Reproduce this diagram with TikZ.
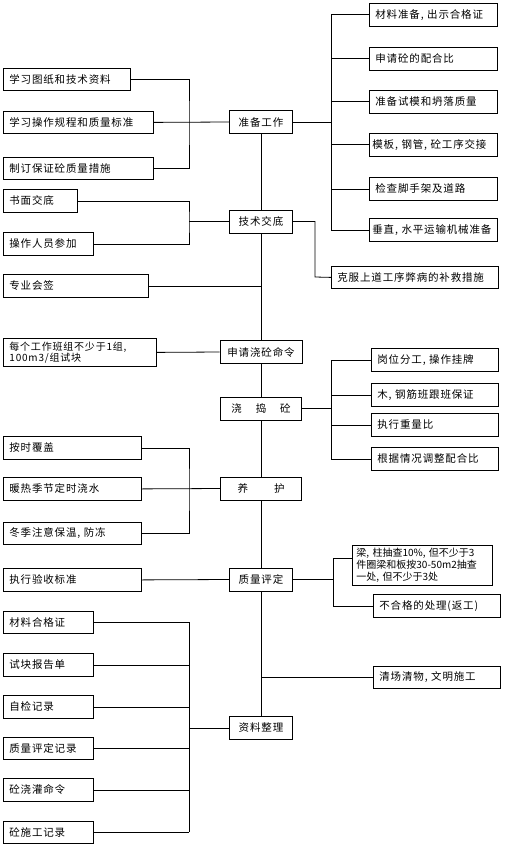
\documentclass[tikz,border=0pt]{standalone}
\usepackage{fontspec}
\setmainfont[LetterSpace=8]{Noto Sans CJK SC}
\newfontfamily\plainfont{Noto Sans CJK SC}
\usetikzlibrary{calc}

\begin{document}
\begin{tikzpicture}[x=1pt,y=-1pt,
  box/.style={draw,line width=0.8pt,inner xsep=6pt,inner ysep=0pt,font=\fontsize{10.5}{12}\selectfont},
  lbox/.style 2 args={box,anchor=north west,align=left,text width=#1,minimum height=#2},
  mbox/.style={box,minimum width=#1,minimum height=23pt},
  link/.style={line width=0.8pt}]
  \useasboundingbox (0,0) rectangle (515,853);

  % Main column
  \node[mbox=63pt] (zb) at (261,122) {准备工作};
  \node[mbox=63pt] (jd) at (261,221.5) {技术交底};
  \node[mbox=82pt] (sq) at (261,352) {申请浇砼命令};
  \node[mbox=81pt] (jdt) at (261,408.5) {浇\hspace{14pt}捣\hspace{14pt}砼};
  \node[mbox=81pt] (yh) at (261,488.5) {养\hspace{26pt}护};
  \node[mbox=63pt] (pd) at (261,579.5) {质量评定};
  \node[mbox=63pt] (zl) at (261,728) {资料整理};
  \foreach \a/\b in {zb/jd,jd/sq,sq/jdt,jdt/yh,yh/pd,pd/zl}
    \draw[link] (\a) -- (\b);

  % Left of 准备工作
  \node[lbox={115pt}{22pt}] (l1) at (3,68) {学习图纸和技术资料};
  \node[lbox={138pt}{22pt}] (l2) at (3,111) {学习操作规程和质量标准};
  \node[lbox={138pt}{22pt}] (l3) at (3,157) {制订保证砼质量措施};
  \coordinate (b1) at (189,122);
  \draw[link] (l1.east) -| (b1) |- (l3.east);
  \draw[link] (l2.east) -- (zb.west);

  % Right of 准备工作
  \node[lbox={116pt}{23pt}] (ra) at (369,3) {材料准备, 出示合格证};
  \node[lbox={116pt}{23pt}] (rb) at (369,47) {申请砼的配合比};
  \node[lbox={116pt}{23pt}] (rc) at (369,90) {准备试模和坍落质量};
  \node[lbox={122pt}{23pt},inner xsep=3pt] (rd) at (369,133) {模板, 钢管, 砼工序交接};
  \node[lbox={116pt}{23pt}] (re) at (369,177) {检查脚手架及道路};
  \node[lbox={122pt}{23pt},inner xsep=3pt] (rf) at (369,218) {垂直, 水平运输机械准备};
  \coordinate (r1) at (331,122);
  \draw[link] (zb.east) -- (r1);
  \foreach \n in {ra,rb,rc,rd,re,rf}
    \draw[link] (r1) |- (\n.west);

  % 技术交底
  \node[lbox={62pt}{23pt}] (s1) at (3,189) {书面交底};
  \node[lbox={78pt}{23pt}] (s2) at (3,232) {操作人员参加};
  \coordinate (b2) at (189,221.5);
  \draw[link] (s1.east) -| (b2) |- (s2.east);
  \draw[link] (b2) -- (jd.west);
  \node[lbox={155pt}{22pt}] (kf) at (331,266) {克服上道工序弊病的补救措施};
  \coordinate (k1) at (315,277);
  \draw[link] (jd.east) -| (k1) -- (kf.west);
  \node[lbox={133pt}{23pt}] (hq) at (3,274) {专业会签};
  \draw[link] (hq.east) -- (hq.east -| jd.south);

  % 申请浇砼命令
  \node[lbox={141pt}{28pt},font=\fontsize{10}{11}\selectfont] (mg) at (3,338)
    {每个工作班组不少于1组,\\100m3/组试块};
  \draw[link] (mg.east) -- (sq.west);

  % 浇捣砼
  \node[lbox={115pt}{23pt}] (wa) at (371,348) {岗位分工, 操作挂牌};
  \node[lbox={115pt}{23pt}] (wb) at (371,383) {木, 钢筋班跟班保证};
  \node[lbox={115pt}{23pt}] (wc) at (371,413) {执行重量比};
  \node[lbox={115pt}{23pt}] (wd) at (371,447) {根据情况调整配合比};
  \coordinate (r2) at (331,408.5);
  \draw[link] (jdt.east) -- (r2);
  \foreach \n in {wa,wb,wc,wd}
    \draw[link] (r2) |- (\n.west);

  % 养护
  \node[lbox={126pt}{23pt}] (y1) at (3,436) {按时覆盖};
  \node[lbox={126pt}{23pt}] (y2) at (3,477) {暖热季节定时浇水};
  \node[lbox={126pt}{22pt}] (y3) at (3,522) {冬季注意保温, 防冻};
  \coordinate (b3) at (189,488.5);
  \draw[link] (y1.east) -| (b3) |- (y3.east);
  \draw[link] (y2.east) -- (yh.west);

  % 质量评定
  \node[lbox={126pt}{23pt}] (ys) at (3,568) {执行验收标准};
  \draw[link] (ys.east) -- (pd.west);
  \node[lbox={132pt}{40pt},inner xsep=4pt,font=\plainfont\fontsize{10}{12}\selectfont] (q1) at (352,545)
    {梁, 柱抽查10\%, 但不少于3\\件圈梁和板按30-50m2抽查\\一处, 但不少于3处};
  \node[lbox={115pt}{23pt}] (q2) at (373,594) {不合格的处理(返工)};
  \coordinate (r3) at (333,579.5);
  \draw[link] (pd.east) -- (r3);
  \draw[link] (r3) |- ($(q1.west)+(0,-7)$);
  \draw[link] (r3) |- (q2.west);
  \node[lbox={115pt}{22pt}] (qc) at (373,666) {清场清物, 文明施工};
  \draw[link] (qc.west) -- (qc.west -| zl.north);

  % 资料整理
  \node[lbox={78pt}{22pt}] (d1) at (3,611) {材料合格证};
  \node[lbox={78pt}{23pt}] (d2) at (3,653) {试块报告单};
  \node[lbox={78pt}{23pt}] (d3) at (3,695) {自检记录};
  \node[lbox={78pt}{22pt}] (d4) at (3,737) {质量评定记录};
  \node[lbox={78pt}{23pt}] (d5) at (3,778) {砼浇灌命令};
  \node[lbox={78pt}{22pt}] (d6) at (3,821) {砼施工记录};
  \coordinate (b4) at (189,728);
  \foreach \n in {d1,d2,d3,d4,d5,d6}
    \draw[link] (\n.east) -- (\n.east -| b4);
  \draw[link] (d1.east -| b4) -- (d6.east -| b4);
  \draw[link] (b4) -- (zl.west);
\end{tikzpicture}
\end{document}
